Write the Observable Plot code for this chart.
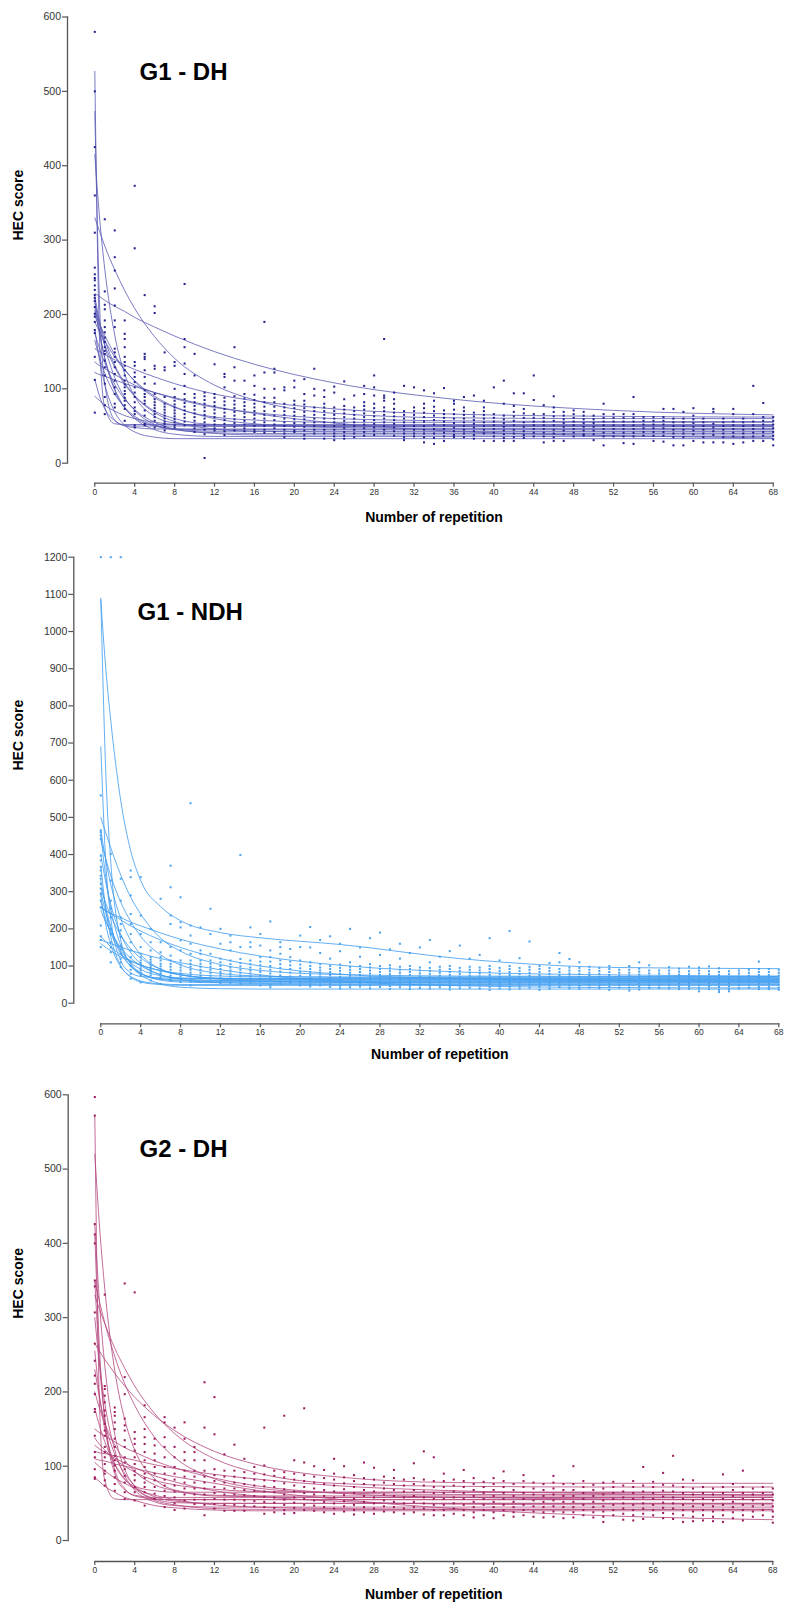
<!DOCTYPE html>
<html><head><meta charset="utf-8">
<script src="https://cdn.jsdelivr.net/npm/d3@7"></script>
<script src="https://cdn.jsdelivr.net/npm/@observablehq/plot@0.6"></script>
<style>
html,body{margin:0;padding:0;background:#fff}
body{width:787px;height:1605px;position:relative;overflow:hidden;font-family:"Liberation Sans",Arial,Helvetica,sans-serif}
.panel{position:absolute;left:0}
.panel svg{display:block}
</style></head><body>
<div id="p1" class="panel" style="top:0px"></div>
<div id="p2" class="panel" style="top:530px"></div>
<div id="p3" class="panel" style="top:1070px"></div>
<script>
// ---------- shared tick labels / curve knots ----------
const xTicks = [0,4,8,12,16,20,24,28,32,36,40,44,48,52,56,60,64,68];
const yTicks600 = [0,100,200,300,400,500,600];
const yTicks1200 = [0,100,200,300,400,500,600,700,800,900,1000,1100,1200];
const knots = [0,0.5,1,2,3,4,6,8,12,16,24,36,52,68];
const panelTitles = ["G1 - DH", "G1 - NDH", "G2 - DH"];

// ---------- G1 - DH : points per repetition ----------
const g1dhPoints = [
[580,500,425,360,310,263,254,249,246,239,233,226,222,218,210,201,197,190,179,175,143,112,68],
[328,231,213,207,192,183,176,169,163,156,151,147,138,129,118,107,89,78,66],
[313,277,259,235,212,192,183,154,149,143,136,129,120,111,102,93,80,75],
[192,174,167,156,143,136,131,125,118,111,106,102,97,93,88,84,78,73,57],
[373,289,136,131,122,116,109,102,95,89,82,75,70,66,51,48],
[226,147,143,140,125,116,107,98,93,89,84,80,71,64,53,51],
[211,202,131,127,107,93,86,82,78,74,70,66,62,57,48],
[149,129,125,89,80,76,72,68,64,60,56,53,49,44],
[136,131,100,89,84,79,75,71,67,63,59,55,51,48],
[241,167,156,134,120,104,93,86,81,76,71,66,61,56,51],
[147,118,93,88,82,77,72,67,62,57,52,47,42],
[95,90,85,80,75,70,65,60,55,50,45,39,7],
[133,93,88,82,77,72,67,62,57,52,47,44],
[120,116,102,88,83,78,73,68,63,58,53,48,43,38],
[156,129,111,90,84,79,74,69,64,59,54,49,44],
[111,93,87,82,77,72,67,62,57,52,47,43],
[118,104,92,85,80,75,70,65,60,55,50,45,42],
[190,122,100,88,82,76,70,65,60,55,50,45,41],
[127,122,100,88,82,76,70,64,58,52,47,42],
[102,98,80,75,70,65,60,55,50,45,40,35],
[111,102,84,79,74,69,64,59,54,49,44,42],
[113,93,84,79,74,69,64,59,54,49,44,38,33],
[127,100,91,75,70,65,60,55,50,45,40],
[98,89,80,75,70,65,60,55,50,45,40,33],
[103,95,75,70,65,60,55,50,45,40,36,31],
[110,86,77,72,67,62,57,52,47,42,37,33],
[91,75,70,65,60,55,50,45,40,35],
[104,93,82,77,72,67,62,57,52,47,42,37],
[118,102,91,80,74,68,63,58,53,48,43,38],
[167,91,88,84,75,70,65,60,55,50,45,40],
[95,86,80,73,68,63,58,53,48,43,37],
[104,70,65,60,55,50,45,40,35,31],
[102,75,70,65,60,55,50,45,40,36],
[98,80,74,68,62,56,50,45,40,35,28],
[94,84,76,70,64,58,52,46,40,34,26],
[101,71,66,61,56,51,46,41,36,30],
[84,80,72,66,60,54,48,43,38,35],
[89,75,70,65,60,55,50,45,40,35],
[91,68,63,58,53,48,43,38,33],
[84,75,70,65,60,55,50,45,40,30],
[102,66,61,56,51,46,41,36,30],
[111,80,64,59,54,49,44,39,34,30],
[94,77,69,63,57,51,45,40,35,30],
[94,73,67,61,55,49,43,38,34],
[118,85,66,61,56,51,46,41,36],
[78,66,61,56,51,46,41,36,28],
[90,75,69,63,57,51,45,40,35,30],
[69,64,59,54,49,44,39,30],
[71,66,61,56,51,46,41,36],
[69,64,59,54,49,44,39,37],
[64,59,54,49,44,39,31],
[80,66,61,56,51,46,41,36,24],
[66,61,56,51,46,41,36],
[66,61,56,51,46,41,36,27],
[89,66,61,56,51,46,41,36,26],
[62,57,52,47,42,37],
[62,57,52,47,42,37,30],
[73,62,57,52,47,42,37,29],
[73,60,55,50,45,40,35,24],
[69,60,55,50,45,40,35,24],
[74,64,59,54,49,44,39,30],
[60,55,50,45,40,35,28],
[73,69,53,48,43,38,28],
[60,55,50,45,40,35,28],
[73,66,56,51,46,41,36,26],
[60,55,50,45,40,35,28],
[104,66,56,51,46,41,36,30],
[81,62,57,52,47,42,37,30],
[62,57,52,47,42,37,32,24]
];
// fitted curves of G1 - DH, value at each knot
const g1dhCurves = [
[527,157,75,53,52,52,52,52,52,52,52,52,52,52],
[473,206,107,58,51,50,50,50,50,50,50,50,50,50],
[415,327,261,172,120,90,63,54,50,50,50,50,50,50],
[330,311,292,260,232,208,170,141,105,85,67,61,60,60],
[228,224,219,211,204,196,183,171,150,133,108,86,71,65],
[225,188,158,115,88,71,52,45,41,40,40,40,40,40],
[220,175,141,98,74,61,50,46,45,45,45,45,45,45],
[215,188,166,132,108,91,70,60,52,51,50,50,50,50],
[210,172,142,100,75,60,45,39,36,36,36,36,36,36],
[205,187,172,146,126,110,88,75,62,58,55,55,55,55],
[200,178,159,129,106,90,68,56,46,43,42,42,42,42],
[190,176,164,143,125,111,90,76,60,53,48,47,47,47],
[180,137,106,69,51,42,35,33,33,33,33,33,33,33],
[175,153,135,106,86,72,55,46,40,38,38,38,38,38],
[165,141,121,93,75,63,51,46,43,43,43,43,43,43],
[154,150,146,139,132,126,116,107,93,84,73,66,63,62],
[136,131,127,119,112,105,95,87,75,68,60,57,56,56],
[122,119,117,112,107,103,95,88,76,67,54,43,37,34],
[113,89,73,57,50,48,46,46,46,46,46,46,46,46],
[90,84,78,70,64,60,55,52,50,50,50,50,50,50]
];

// ---------- G1 - NDH ----------
const g1ndhPoints = [
[1200,559,465,460,451,442,397,384,366,357,343,335,321,308,294,276,258,209,180,170,151],
[1200,402,330,276,254,231,200,186,164,150,137,110],
[1200,335,276,231,213,196,178,155,145,133,120,110,97],
[357,339,290,240,213,186,164,142,124,110,100,90,79,66],
[339,236,186,151,133,124,115,108,101,94,88,81,75,56],
[200,164,142,124,117,110,103,97,90,83,75,61],
[281,164,137,124,115,106,99,92,85,79,72,66,52],
[370,312,236,213,151,128,115,106,98,90,82,74,66,61],
[285,218,204,169,142,115,104,96,88,80,72,64,57],
[538,209,182,160,133,115,106,98,90,82,74,66,58,48],
[204,142,133,115,106,98,90,82,74,66,57],
[254,186,133,115,106,98,90,82,74,66,57],
[200,160,120,110,100,92,84,76,68,60,54],
[182,164,142,115,105,96,88,80,72,64,55],
[399,151,119,108,99,90,82,74,66,58,52],
[204,164,151,115,105,96,88,80,72,64,56],
[186,155,124,112,102,93,84,75,66,58,48],
[220,142,124,112,100,90,80,70,60,50,43],
[164,151,133,115,105,95,85,75,65,58,52],
[146,124,112,102,92,82,72,63,55],
[182,151,115,104,94,84,74,64,56,48],
[205,150,110,100,92,84,76,68,60,52,45],
[170,135,105,96,88,80,72,64,56,48],
[180,120,100,92,84,76,68,60,52,44],
[160,140,104,95,87,79,71,63,55,47,40],
[200,110,98,90,82,74,66,58,50,43],
[150,125,100,92,84,76,68,60,52,45],
[175,105,96,88,80,72,64,56,48,40],
[190,130,100,92,84,76,68,60,52,44],
[145,102,94,86,78,70,62,54,46,38],
[160,120,98,90,82,74,66,58,50,43],
[135,100,92,84,76,68,60,52,45,38],
[150,96,88,80,72,64,56,48,41],
[170,110,95,87,79,71,63,55,47,40],
[125,98,90,82,74,66,58,50,43],
[140,100,92,84,76,68,60,52,44,37],
[155,95,87,79,71,63,55,47,40],
[120,98,90,82,74,66,58,50,42],
[130,96,88,80,72,64,56,48,40],
[175,100,92,84,76,68,60,52,44,36],
[115,95,87,79,71,63,55,47,40],
[194,100,92,84,76,68,60,52,44,37],
[121,95,87,79,71,63,55,47,40],
[166,98,90,82,74,66,58,50,42],
[100,92,84,76,68,60,52,44,36],
[108,95,87,79,71,63,55,47,39],
[135,110,92,84,76,68,60,52,44],
[119,96,88,80,72,64,56,48,40],
[110,95,87,79,71,63,55,47,39],
[98,90,82,74,66,58,50,42],
[95,87,79,71,63,55,47,40],
[100,92,84,76,68,60,52,44,36],
[90,82,74,66,58,50,42],
[100,90,82,74,66,58,50,42,34],
[110,93,85,77,69,61,53,45,37],
[102,88,80,72,64,56,48,41],
[88,80,72,64,56,48,41],
[97,88,80,72,64,56,48,40],
[93,85,77,69,61,53,45,38],
[98,86,78,70,62,54,46,39],
[96,88,80,72,64,56,48,40,32],
[99,86,78,70,62,54,46,38],
[94,84,76,68,60,52,44,36,30],
[86,78,70,62,54,46,38,32],
[88,80,72,64,56,48,40],
[90,82,74,66,58,50,42],
[112,92,84,76,68,60,52,44,38],
[92,84,76,68,60,52,44,38],
[90,82,74,66,58,50,42,36]
];
const g1ndhCurves = [
[1090,620,380,170,105,80,66,62,60,60,60,60,60,60],
[1085,900,760,545,410,330,260,222,190,176,158,120,96,93],
[690,380,230,115,82,72,68,67,67,67,67,67,67,67],
[500,458,418,345,285,240,175,140,104,88,77,73,72,72],
[465,385,320,228,169,131,92,76,67,65,65,65,65,65],
[455,338,255,156,106,82,64,60,58,58,58,58,58,58],
[440,388,343,272,220,180,130,103,80,73,70,70,70,70],
[400,325,266,185,136,106,77,66,61,60,60,60,60,60],
[330,259,206,138,100,80,62,57,55,55,55,55,55,55],
[310,269,235,183,147,122,91,77,66,64,63,63,63,63],
[290,211,158,98,72,60,52,50,50,50,50,50,50,50],
[275,227,189,134,99,76,52,43,39,38,38,38,38,38],
[260,250,241,224,208,194,170,150,120,100,78,66,61,60],
[255,248,242,230,218,208,189,172,146,127,102,84,76,73],
[180,165,152,130,115,103,88,80,73,71,70,70,70,70],
[170,165,160,151,142,134,120,109,90,76,59,47,42,41],
[160,150,141,125,113,102,87,76,65,59,56,55,55,55],
[370,253,179,101,70,57,50,48,48,48,48,48,48,48],
[300,244,201,143,110,91,74,68,65,65,65,65,65,65],
[250,218,192,150,121,101,76,64,55,53,52,52,52,52]
];

// ---------- G2 - DH ----------
const g2dhPoints = [
[597,572,426,412,400,350,342,307,265,242,222,211,197,177,173,141,119,112,96,85,83],
[331,208,204,195,186,175,168,157,148,141,126,119,112,103,94,90,81,74],
[179,173,168,159,150,137,126,114,108,101,94,85,76,67],
[346,220,197,164,155,148,135,126,112,105,96,87,78,65,56],
[334,146,137,130,121,112,103,94,88,81,72,65,54],
[182,166,150,139,130,119,108,99,90,84,78,72,65,47],
[137,128,117,108,99,90,81,72,63,56],
[166,159,139,126,112,99,90,82,74,67,60,45],
[152,126,112,99,90,82,74,66,58,50,41],
[159,137,119,108,94,86,78,70,62,54,43],
[126,119,108,94,86,78,70,62,55,49],
[213,152,108,94,86,78,70,62,55,48,34],
[193,143,96,88,80,72,64,56,49,43],
[116,94,86,78,70,62,55,48,40],
[129,94,86,78,70,62,55,48,40],
[110,92,84,76,68,61,54,47,40],
[99,90,82,74,67,60,53,46],
[152,101,89,81,73,66,59,52,45,36],
[94,87,80,72,65,58,51,44,38],
[168,92,85,77,69,62,55,48,41,36],
[108,90,82,74,66,58,51,44,37],
[178,105,88,80,72,64,56,48,41],
[100,86,78,70,62,54,47,40],
[95,84,76,68,60,52,45,38],
[110,90,82,74,66,58,50,43,36],
[100,85,77,69,61,53,46,39],
[88,80,72,64,56,48,41,35],
[105,84,76,68,60,52,45,38],
[98,82,74,66,58,50,43,36],
[86,78,70,62,54,46,39],
[95,84,76,68,60,52,45,38],
[82,74,66,58,50,43,36],
[104,84,76,68,60,52,45,38],
[120,82,74,66,58,50,43,35],
[112,80,72,64,56,48,41,34],
[90,80,72,64,56,48,41,34],
[82,74,66,58,50,43,36],
[95,80,72,64,56,48,41,34],
[84,76,68,60,52,45,38,31],
[79,72,64,56,48,41,34],
[84,76,68,60,52,45,38,30],
[93,80,72,64,56,48,41,34],
[76,68,60,52,45,38,32],
[88,80,72,64,56,48,41,34],
[78,70,62,54,46,39,32],
[76,68,60,52,45,38,31],
[87,78,70,62,54,46,39,32],
[76,68,60,52,45,38,30],
[100,76,68,60,52,45,38,31],
[80,72,64,56,48,41,34],
[75,68,60,52,45,38,31],
[78,70,62,54,46,39,32,25],
[79,72,64,56,48,41,34],
[74,66,58,50,43,36,28],
[80,72,64,56,48,41,34,27],
[99,74,66,58,50,43,36,29],
[79,72,64,56,48,41,34],
[91,75,67,59,51,44,37,30],
[114,74,66,58,50,43,36,29],
[82,72,64,56,48,41,34,25],
[81,70,62,54,46,39,32,26],
[72,64,56,48,41,34,27],
[70,62,54,46,39,32,26],
[89,72,64,56,48,41,34,25],
[76,68,60,52,45,38,30],
[94,72,64,56,48,41,34,27],
[70,62,54,46,39,32],
[72,64,56,48,41,34],
[70,62,54,46,39,32,24]
];
const g2dhCurves = [
[572,170,81,56,55,55,55,55,55,55,55,55,55,55],
[520,418,339,229,163,122,83,68,61,60,60,60,60,60],
[425,314,236,143,96,73,56,51,50,50,50,50,50,50],
[410,251,164,90,68,61,58,58,58,58,58,58,58,58],
[265,254,244,225,208,193,168,148,120,103,86,78,77,77],
[330,310,292,259,232,208,171,144,110,92,77,73,72,72],
[350,320,293,248,211,182,139,112,83,71,64,62,62,62],
[350,234,164,95,70,60,56,55,55,55,55,55,55,55],
[300,234,185,122,87,68,52,47,45,45,45,45,45,45],
[255,192,150,103,82,73,67,65,65,65,65,65,65,65],
[230,190,159,116,90,74,59,53,50,50,50,50,50,50],
[200,177,158,129,108,93,75,67,60,59,58,58,58,58],
[178,153,133,103,83,70,54,48,43,42,42,42,42,42],
[150,145,141,133,125,119,107,98,84,74,64,58,56,55],
[128,123,119,111,104,98,87,79,67,60,53,49,48,48],
[120,118,117,114,111,108,102,97,89,83,74,67,63,61],
[110,108,107,103,100,97,91,86,77,68,56,43,33,28],
[85,79,73,65,58,54,47,44,41,40,40,40,40,40],
[105,99,94,84,77,70,61,55,48,45,43,42,42,42],
[138,129,122,109,100,92,81,75,69,66,65,65,65,65]
];

const FONT = '"Liberation Sans", Arial, Helvetica, sans-serif';
const AXIS = "#555";

function panel(o) {
  const pts = o.points.flatMap((col, x) => col.map(y => ({x, y})));
  const lines = o.curves.flatMap((c, id) => c.map((y, i) => ({id, x: knots[i], y})));
  return Plot.plot({
    width: 787, height: o.height,
    marginTop: o.mt, marginBottom: o.mb, marginLeft: o.ml, marginRight: o.mr,
    insetLeft: o.il, insetBottom: o.ib,
    x: {domain: [0, 68]},
    y: {domain: [0, o.yTicks[o.yTicks.length - 1]]},
    style: {fontFamily: FONT, background: "white", overflow: "visible"},
    marks: [
      Plot.frame({anchor: "left", insetBottom: o.ib, stroke: AXIS, strokeWidth: 1.3}),
      Plot.frame({anchor: "bottom", insetLeft: o.il, stroke: AXIS, strokeWidth: 1.3}),
      Plot.axisY({ticks: o.yTicks, tickFormat: d => String(d), tickSize: 5, tickPadding: 1.5, fontSize: 10.5, label: null, color: "#333", stroke: AXIS, strokeWidth: 1.2}),
      Plot.axisX({ticks: xTicks, tickFormat: d => String(d), tickSize: 4, tickPadding: 1.5, fontSize: 8.5, label: null, color: "#333", stroke: AXIS, strokeWidth: 1.2}),
      Plot.line(lines, {x: "x", y: "y", z: "id", curve: "monotone-x", stroke: o.lineColor, strokeWidth: 0.95, strokeOpacity: 0.85}),
      Plot.dot(pts, {x: "x", y: "y", r: 1.15, symbol: "square", fill: o.dotColor, stroke: "none"}),
      Plot.text([o.title], {text: d => d, frameAnchor: "top-left", dx: o.tdx, dy: o.tdy, textAnchor: "start", lineAnchor: "middle", fontSize: 24, fontWeight: "bold", fill: "#000"}),
      Plot.text(["HEC score"], {text: d => d, frameAnchor: "left", rotate: -90, dx: o.ydx, dy: o.ydy, fontSize: 14, fontWeight: "bold", fill: "#000"}),
      Plot.text(["Number of repetition"], {text: d => d, frameAnchor: "bottom", dx: o.il / 2, dy: o.xdy, lineAnchor: "middle", fontSize: 14, fontWeight: "bold", fill: "#000"})
    ]
  });
}

document.getElementById("p1").appendChild(panel({
  height: 530, mt: 16.5, mb: 47.3, ml: 67, mr: 14.3, il: 27.3, ib: 20,
  yTicks: yTicks600, points: g1dhPoints, curves: g1dhCurves,
  dotColor: "#22228f", lineColor: "#5b5bb5", title: panelTitles[0],
  tdx: 72, tdy: 55.5, ydx: -48.7, ydy: -9.6, xdy: 34.3
}));
document.getElementById("p2").appendChild(panel({
  height: 540, mt: 26.7, mb: 46.7, ml: 73.3, mr: 8.7, il: 27, ib: 20.6,
  yTicks: yTicks1200, points: g1ndhPoints, curves: g1ndhCurves,
  dotColor: "#4aa3ef", lineColor: "#3d9cf0", title: panelTitles[1],
  tdx: 63.7, tdy: 55, ydx: -55, ydy: -20, xdy: 31
}));
document.getElementById("p3").appendChild(panel({
  height: 535, mt: 24.3, mb: 44, ml: 67.7, mr: 14.7, il: 26.6, ib: 21,
  yTicks: yTicks600, points: g2dhPoints, curves: g2dhCurves,
  dotColor: "#9c1a5c", lineColor: "#b4487f", title: panelTitles[2],
  tdx: 71.3, tdy: 54.7, ydx: -49.4, ydy: -9.4, xdy: 33
}));
</script>
</body></html>
